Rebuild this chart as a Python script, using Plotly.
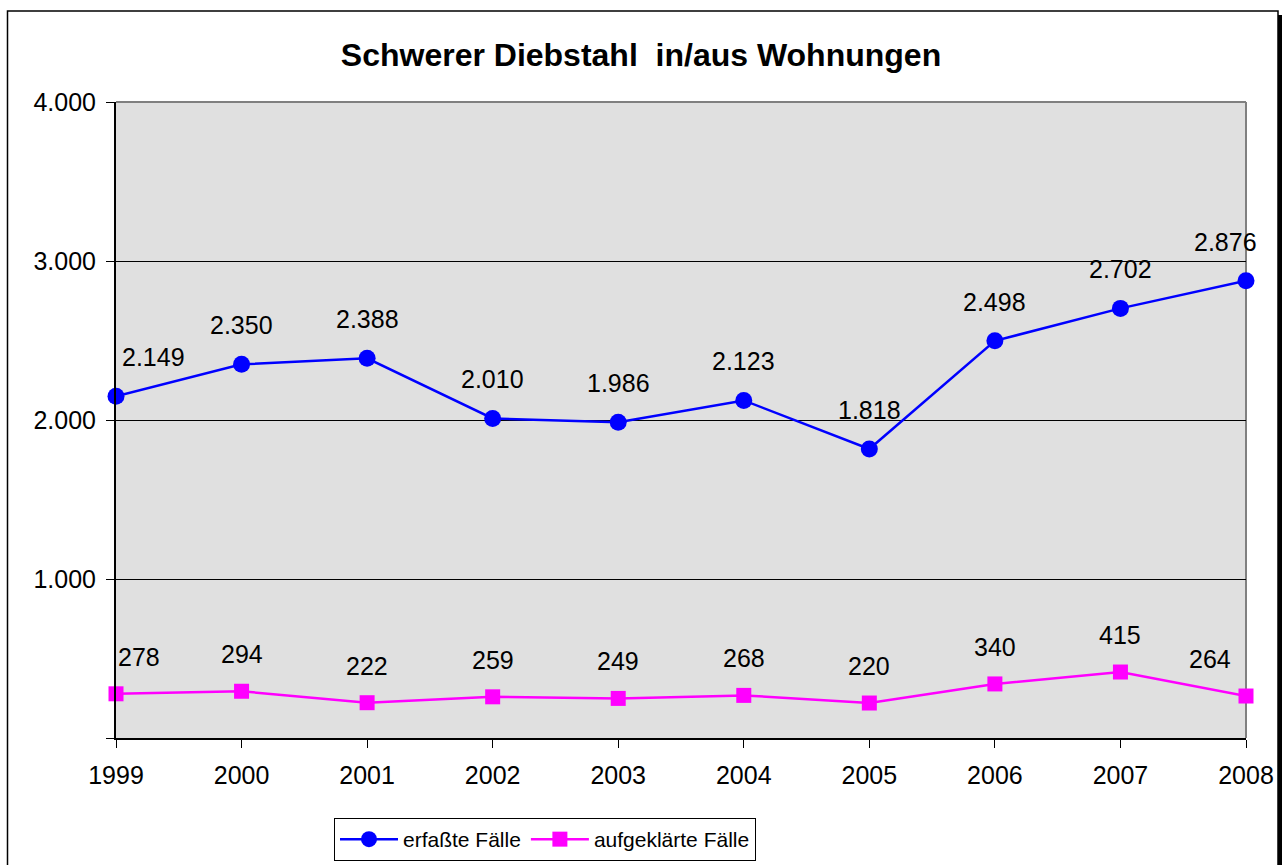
import plotly.graph_objects as go

years = [1999, 2000, 2001, 2002, 2003, 2004, 2005, 2006, 2007, 2008]
erfasst = [2149, 2350, 2388, 2010, 1986, 2123, 1818, 2498, 2702, 2876]
aufgeklaert = [278, 294, 222, 259, 249, 268, 220, 340, 415, 264]
y_ticks = [0, 1000, 2000, 3000, 4000]
y_ticktext = ["", "1.000", "2.000", "3.000", "4.000"]
title = "Schwerer Diebstahl  in/aus Wohnungen"
series_names = ["erfaßte Fälle", "aufgeklärte Fälle"]

def fmt(v):
    return f"{v:,}".replace(",", ".")

W, H = 1282, 865
L, R, T, B = 116, 36, 102, 127
pw, ph = W - L - R, H - T - B

fig = go.Figure()
fig.add_trace(go.Scatter(x=years, y=erfasst, name=series_names[0], mode="lines+markers",
                         line=dict(color="#0000FF", width=2.5),
                         marker=dict(symbol="circle", size=17, color="#0000FF"),
                         cliponaxis=False))
fig.add_trace(go.Scatter(x=years, y=aufgeklaert, name=series_names[1], mode="lines+markers",
                         line=dict(color="#FF00FF", width=2.5),
                         marker=dict(symbol="square", size=15, color="#FF00FF"),
                         cliponaxis=False))

annotations = []
for i, (x, v) in enumerate(zip(years, erfasst)):
    xs = 37 if i == 0 else (-21 if i == len(years) - 1 else 0)
    annotations.append(dict(x=x, y=v, xref="x", yref="y", text=fmt(v), showarrow=False,
                            xshift=xs, yshift=39, font=dict(size=25, color="black", family="Arial")))
for i, (x, v) in enumerate(zip(years, aufgeklaert)):
    xs = 23 if i == 0 else (-36 if i == len(years) - 1 else 0)
    annotations.append(dict(x=x, y=v, xref="x", yref="y", text=fmt(v), showarrow=False,
                            xshift=xs, yshift=37, font=dict(size=25, color="black", family="Arial")))

def px_x(p):
    return (p - L) / pw

def px_y(p):
    return (T + ph - p) / ph

shapes = [
    # outer frame
    dict(type="rect", xref="paper", yref="paper", x0=px_x(7.5), x1=px_x(1278), y0=px_y(900), y1=px_y(11),
         line=dict(color="black", width=1.5), fillcolor="rgba(0,0,0,0)", layer="below"),
    dict(type="rect", xref="paper", yref="paper", x0=px_x(1278), x1=px_x(1283), y0=px_y(900), y1=px_y(15),
         line=dict(width=0), fillcolor="black", layer="above"),
    # gray top & right border of plot area
    dict(type="line", xref="paper", yref="paper", x0=0, x1=1, y0=1, y1=1,
         line=dict(color="#808080", width=2), layer="above"),
    dict(type="line", xref="paper", yref="paper", x0=1, x1=1, y0=0, y1=1,
         line=dict(color="#808080", width=2), layer="below"),
]

fig.update_layout(
    width=W, height=H,
    margin=dict(l=L, r=R, t=T, b=B, autoexpand=False),
    paper_bgcolor="white", plot_bgcolor="#E0E0E0",
    font=dict(family="Arial", size=25, color="black"),
    title=dict(text="<b>" + title + "</b>", x=0.5, xref="container", xanchor="center",
               y=1 - 55 / H, yref="container", yanchor="middle", font=dict(size=32, family="Arial")),
    xaxis=dict(range=[1999, 2008], tickvals=years, ticktext=[str(y) for y in years],
               showgrid=False, zeroline=False, showline=True, linecolor="black", linewidth=2,
               ticks="outside", ticklen=8, tickcolor="black", tickwidth=1, automargin=False,
               tickfont=dict(size=25), ticklabelstandoff=6, fixedrange=True),
    yaxis=dict(range=[0, 4000], tickvals=y_ticks, ticktext=y_ticktext,
               showgrid=True, gridcolor="black", gridwidth=1, zeroline=False,
               showline=True, linecolor="black", linewidth=2, automargin=False,
               ticks="outside", ticklen=8, tickcolor="black", tickwidth=1,
               tickfont=dict(size=25), ticklabelstandoff=5),
    legend=dict(orientation="h", x=px_x(334), y=px_y(818), xanchor="left", yanchor="top",
                bordercolor="black", borderwidth=1, bgcolor="white",
                font=dict(size=21, family="Arial"), itemwidth=58, tracegroupgap=0),
    annotations=annotations,
    shapes=shapes,
    showlegend=True,
)

fig.write_html("out.html", config={"displayModeBar": False},
               post_script="document.body.style.margin='0';document.body.style.overflow='hidden';")
